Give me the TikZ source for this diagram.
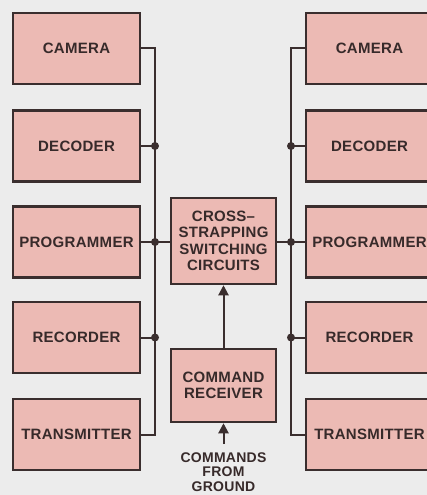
\documentclass[tikz,border=0pt]{standalone}
\usepackage{fontspec}
\setmainfont[LetterSpace=2]{Liberation Sans}
\usetikzlibrary{arrows.meta}
\definecolor{bg}{RGB}{236,236,236}
\definecolor{boxfill}{RGB}{236,186,180}
\definecolor{edge}{RGB}{58,46,46}
\definecolor{ink}{RGB}{55,42,42}
\begin{document}
\begin{tikzpicture}[x=1pt,y=-1pt,
  box/.style={draw=edge,line width=2.5pt,fill=boxfill,minimum width=127pt,minimum height=71pt,inner sep=0pt,
    text=ink,font=\fontsize{15}{16.5}\selectfont\bfseries,align=center},
  cbox/.style={box,minimum width=105pt},
  wire/.style={draw=edge,line width=2pt},
  dot/.style={circle,fill=edge,inner sep=0pt,minimum size=8pt},
  arr/.style={wire,-{Triangle[width=10pt,length=10pt]}},
  lbl/.style={text=ink,font=\fontsize{14}{14.5}\selectfont\bfseries,align=center,inner sep=0pt}]
\useasboundingbox (0,0) rectangle (427,495);
\fill[bg] (0,0) rectangle (427,495);
\clip (0,0) rectangle (427,495);
% left column
\node[box] (lcam) at (76.5,48.5) {CAMERA};
\node[box] (ldec) at (76.5,146) {DECODER};
\node[box] (lprog) at (76.5,242) {PROGRAMMER};
\node[box] (lrec) at (76.5,337.5) {RECORDER};
\node[box] (ltx) at (76.5,434.5) {TRANSMITTER};
% right column
\node[box] (rcam) at (369.5,48.5) {CAMERA};
\node[box] (rdec) at (369.5,146) {DECODER};
\node[box] (rprog) at (369.5,242) {PROGRAMMER};
\node[box] (rrec) at (369.5,337.5) {RECORDER};
\node[box] (rtx) at (369.5,434.5) {TRANSMITTER};
% centre
\node[cbox,minimum height=86pt] (cross) at (223.5,241) {CROSS--\\STRAPPING\\SWITCHING\\CIRCUITS};
\node[cbox,minimum height=73pt] (recv) at (223.5,385.5) {COMMAND\\RECEIVER};
\node[lbl] (cmd) at (223.5,472) {COMMANDS\\FROM\\GROUND};
\coordinate (cmdtop) at (223.5,444);
\coordinate (lbus) at (155,0);
\coordinate (rbus) at (291,0);
% left bus
\draw[wire] (lcam.east) -- (lcam.east -| lbus) |- (ltx.east);
\draw[wire] (ldec.east) -- (ldec.east -| lbus) node[dot]{};
\draw[wire] (lrec.east) -- (lrec.east -| lbus) node[dot]{};
\draw[wire] (lprog.east) -- (lprog.east -| cross.west);
\node[dot] at (lprog.east -| lbus) {};
% right bus
\draw[wire] (rcam.west) -- (rcam.west -| rbus) |- (rtx.west);
\draw[wire] (rdec.west) -- (rdec.west -| rbus) node[dot]{};
\draw[wire] (rrec.west) -- (rrec.west -| rbus) node[dot]{};
\draw[wire] (rprog.west) -- (rprog.west -| cross.east);
\node[dot] at (rprog.west -| rbus) {};
% arrows
\draw[arr] (recv.north) -- (cross.south);
\draw[arr] (cmdtop) -- (recv.south);
\end{tikzpicture}
\end{document}
